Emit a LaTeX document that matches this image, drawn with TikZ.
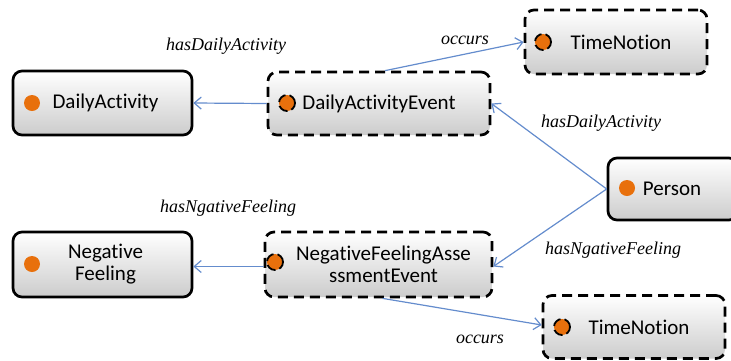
\documentclass[tikz,border=0pt]{standalone}
\usepackage{fontspec}
\setmainfont{Liberation Serif}
\newfontfamily\boxfont[RawFeature=-liga]{Carlito}
\usetikzlibrary{arrows.meta}
\definecolor{arrowblue}{RGB}{100,140,205}
\definecolor{dotorange}{RGB}{232,112,12}
\tikzset{
  concept/.style={rectangle, rounded corners=9pt, line width=2.7pt, draw=black,
    top color=white, bottom color=black!20, font=\boxfont\fontsize{21}{23}\selectfont,
    align=center, inner sep=0pt},
  dashedbox/.style={concept, dash pattern=on 10pt off 6pt},
  dot/.style={circle, fill=dotorange, minimum size=16pt, inner sep=0pt},
  dashdot/.style={dot, draw=black, line width=1.8pt, dash pattern=on 10pt off 4pt},
  rel/.style={draw=arrowblue, line width=1.2pt, -{Straight Barb[length=7pt,width=12pt,line width=1.2pt]}},
  lab/.style={font=\itshape\fontsize{18}{20}\selectfont, inner sep=0pt}
}
\begin{document}
\begin{tikzpicture}[x=1pt,y=-1pt]
\useasboundingbox (0,0) rectangle (731,360);
\clip (0,0) rectangle (731,360);
% nodes
\node[concept, minimum width=179pt, minimum height=64pt] (DA) at (102.5,103) {\hspace*{6pt}DailyActivity};
\node[dashedbox, minimum width=222pt, minimum height=63pt] (DAE) at (379,103.5) {DailyActivityEvent};
\node[dashedbox, minimum width=182pt, minimum height=64pt] (TN1) at (616,42) {\hspace*{10pt}TimeNotion};
\node[concept, minimum width=130pt, minimum height=62pt] (P) at (673,189) {\hspace*{-2pt}Person};
\node[concept, minimum width=179pt, minimum height=65pt] (NF) at (102.5,264.5) {\hspace*{6pt}Negative\\[-1pt]\hspace*{6pt}Feeling};
\node[dashedbox, minimum width=227pt, minimum height=65pt] (NFAE) at (378.5,264.5) {\hspace*{10pt}NegativeFeelingAsse\\[-1pt]\hspace*{10pt}ssmentEvent};
\node[dashedbox, minimum width=182pt, minimum height=63pt] (TN2) at (634,327) {\hspace*{10pt}TimeNotion};
% dots
\node[dot] (dDA) at (32,103) {};
\node[dashdot] (dDAE) at (287,103) {};
\node[dashdot] (dTN1) at (543,42) {};
\node[dot] (dP) at (627,188) {};
\node[dot] (dNF) at (32,264) {};
\node[dashdot] (dNFAE) at (275,262) {};
\node[dashdot] (dTN2) at (562,327) {};
% connectors
\draw[rel] (DAE.west) -- (DA.east);
\draw[rel] ([xshift=6pt]DAE.north) -- (TN1.west);
\draw[rel] (P.west) -- (DAE.east);
\draw[rel] (P.west) -- ([yshift=-2pt]NFAE.east);
\draw[rel] ([yshift=-2pt]NFAE.west) -- ([yshift=-2pt]NF.east);
\draw[rel] ([xshift=4pt]NFAE.south) -- ([yshift=2pt]TN2.west);
% labels
\node[lab] (l1) at (226,46) {hasDailyActivity};
\node[lab] (l2) at (465,40) {occurs};
\node[lab] (l3) at (601,123) {hasDailyActivity};
\node[lab] (l4) at (613,250) {hasNgativeFeeling};
\node[lab] (l5) at (228,208) {hasNgativeFeeling};
\node[lab] (l6) at (480,339) {occurs};
\end{tikzpicture}
\end{document}
